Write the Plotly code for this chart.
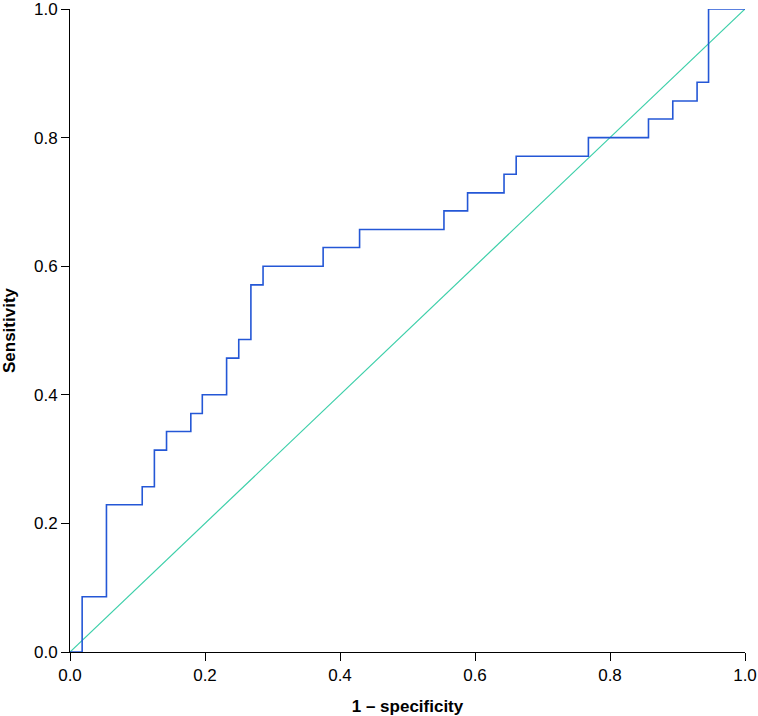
import plotly.graph_objects as go

# ROC curve points (1 - specificity, sensitivity), step shape 'hv'
fpr = [0.0, 0.018, 0.054, 0.107, 0.125, 0.143, 0.179, 0.196, 0.232, 0.25, 0.268,
       0.286, 0.375, 0.429, 0.554, 0.589, 0.643, 0.661, 0.768, 0.857, 0.893,
       0.929, 0.946, 1.0]
tpr = [0.0, 0.086, 0.229, 0.257, 0.314, 0.343, 0.371, 0.4, 0.457, 0.486, 0.571,
       0.6, 0.629, 0.657, 0.686, 0.714, 0.743, 0.771, 0.8, 0.829, 0.857,
       0.886, 1.0, 1.0]
ref_x = [0.0, 1.0]
ref_y = [0.0, 1.0]
tick_vals = [0.0, 0.2, 0.4, 0.6, 0.8, 1.0]
tick_text = ["0.0", "0.2", "0.4", "0.6", "0.8", "1.0"]

FONT = "Liberation Sans, Arial, Helvetica, sans-serif"

fig = go.Figure()
fig.add_trace(go.Scatter(x=ref_x, y=ref_y, mode="lines",
                         line=dict(color="#3ccfa9", width=1.2),
                         cliponaxis=False, showlegend=False, hoverinfo="skip"))
fig.add_trace(go.Scatter(x=fpr, y=tpr, mode="lines", line_shape="hv",
                         line=dict(color="#2457d6", width=1.6),
                         cliponaxis=False, showlegend=False))

axis_common = dict(
    range=[0, 1], showgrid=False, zeroline=False, showline=True,
    linecolor="black", linewidth=1, ticks="outside", ticklen=8,
    tickcolor="black", tickwidth=1, tickvals=tick_vals, ticktext=tick_text,
    tickfont=dict(family=FONT, size=17, color="black"), automargin=False,
    ticklabeloverflow="allow",
)
fig.update_xaxes(**axis_common,
                 title=dict(text="<b>1 – specificity</b>", standoff=16,
                            font=dict(family=FONT, size=17, color="black")))
fig.update_yaxes(**axis_common,
                 title=dict(text="<b>Sensitivity</b>", standoff=14,
                            font=dict(family=FONT, size=17, color="black")))
fig.update_layout(
    width=758, height=716,
    margin=dict(l=70, r=13, t=9, b=64),
    plot_bgcolor="white", paper_bgcolor="white",
)
fig.write_html("out.html", config={"displayModeBar": False},
               post_script="document.body.style.margin='0';document.body.style.overflow='hidden';")
